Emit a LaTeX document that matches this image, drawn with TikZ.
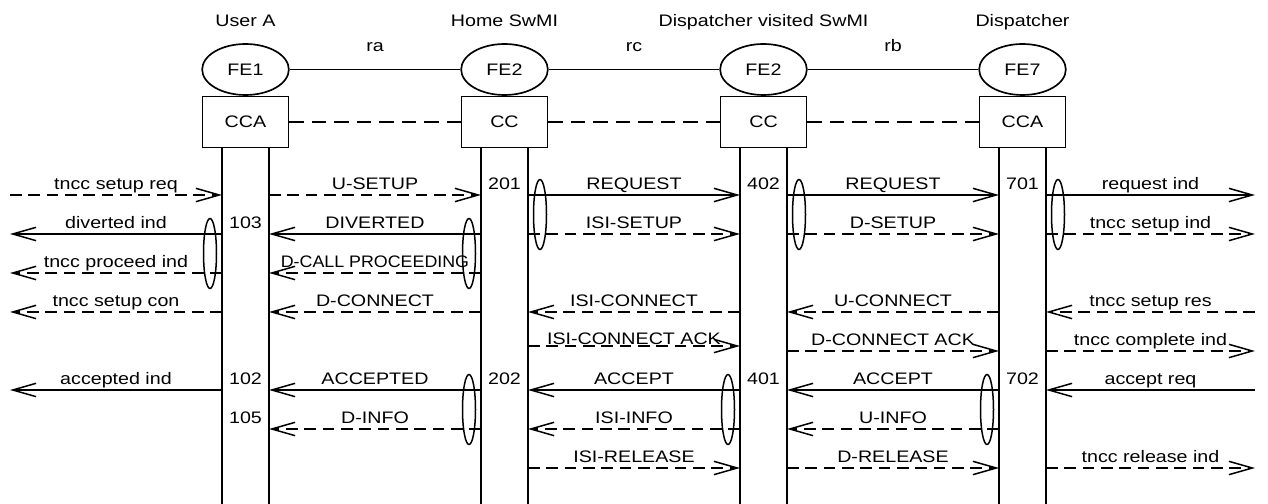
\documentclass[tikz,border=0pt]{standalone}
\usepackage{fontspec}
\setmainfont[FakeStretch=1.18]{Liberation Sans}
\newfontfamily\narrowsans[FakeStretch=1.07]{Liberation Sans}
\usetikzlibrary{positioning,shapes.geometric,arrows.meta}

\begin{document}
\begin{tikzpicture}[x=0.6pt,y=-0.6pt,font=\fontsize{10}{12}\selectfont]
  \tikzset{fe/.style={draw,ellipse,minimum width=52pt,minimum height=30.6pt,inner sep=0pt,line width=1pt}}
  \tikzset{fbox/.style={draw,rectangle,minimum width=51.6pt,minimum height=30.6pt,inner sep=0pt,line width=1pt}}
  \tikzset{life/.style={line width=1.1pt}}
  \tikzset{sig/.style={-{Straight Barb[length=14pt,width=8pt]},line width=0.9pt}}
  \tikzset{dsh/.style={dash pattern=on 7pt off 4pt}}
  \tikzset{lbl/.style={midway,anchor=base,yshift=3.3pt,inner sep=0pt}}
  \tikzset{ifl/.style={midway,anchor=base,yshift=10.5pt,inner sep=0pt}}
  \tikzset{num/.style={anchor=base,yshift=3.3pt,inner sep=0pt}}
  \tikzset{grp/.style={draw,ellipse,minimum width=7.8pt,minimum height=42pt,inner sep=0pt,line width=0.9pt}}

  \useasboundingbox (0,0) rectangle (1268,504);

  % entities and lifelines
  \foreach \n/\x/\fe/\cc/\who in {A/245.5/FE1/CCA/User A, H/504.5/FE2/CC/Home SwMI,
      V/763.5/FE2/CC/Dispatcher visited SwMI, D/1022.5/FE7/CCA/Dispatcher}{
    \node[fe] (f\n) at (\x,69.5) {\fe};
    \node[fbox,below=0pt of f\n] (c\n) {\cc};
    \node[anchor=base] (t\n) at (\x,27) {\who};
    \coordinate (l\n) at (\x-23.5,0);
    \coordinate (r\n) at (\x+23.5,0);
    \draw[life] (l\n |- c\n.south) -- (l\n |- 0,504);
    \draw[life] (r\n |- c\n.south) -- (r\n |- 0,504);
  }
  \coordinate (W) at (10,0);
  \coordinate (E) at (1255,0);

  \draw[line width=0.9pt] (fA) -- node[ifl]{ra} (fH);
  \draw[line width=0.9pt] (fH) -- node[ifl]{rc} (fV);
  \draw[line width=0.9pt] (fV) -- node[ifl]{rb} (fD);
  \draw[line width=0.9pt,dash pattern=on 8.5pt off 5pt] (cA) -- (cH);
  \draw[line width=0.9pt,dash pattern=on 8.5pt off 5pt] (cH) -- (cV);
  \draw[line width=0.9pt,dash pattern=on 8.5pt off 5pt] (cV) -- (cD);

  % messages
  \foreach \from/\to/\y/\st/\txt in {
      W/lA/195/dsh/tncc setup req, rA/lH/195/dsh/U-SETUP, rH/lV/195/solid/REQUEST,
      rV/lD/195/solid/REQUEST, rD/E/195/solid/request ind,
      lA/W/234/solid/diverted ind, lH/rA/234/solid/DIVERTED, rH/lV/234/dsh/ISI-SETUP,
      rV/lD/234/dsh/D-SETUP, rD/E/234/dsh/tncc setup ind,
      lA/W/273/dsh/tncc proceed ind, lH/rA/273/dsh/{\narrowsans D-CALL PROCEEDING},
      lA/W/312/dsh/tncc setup con, lH/rA/312/dsh/D-CONNECT, lV/rH/312/dsh/ISI-CONNECT,
      lD/rV/312/dsh/U-CONNECT, E/rD/312/dsh/tncc setup res,
      rV/lD/351/dsh/D-CONNECT ACK, rD/E/351/dsh/tncc complete ind,
      lA/W/390/solid/accepted ind, lH/rA/390/solid/ACCEPTED, lV/rH/390/solid/ACCEPT,
      lD/rV/390/solid/ACCEPT, E/rD/390/solid/accept req,
      lH/rA/429/dsh/D-INFO, lV/rH/429/dsh/ISI-INFO, lD/rV/429/dsh/U-INFO,
      rH/lV/468/dsh/ISI-RELEASE, rV/lD/468/dsh/D-RELEASE, rD/E/468/dsh/tncc release ind}{
    \draw[sig,\st] (\from |- 0,\y) -- node[lbl]{\txt} (\to |- 0,\y);
  }
  \draw[sig,dsh] (rH |- 0,346) -- node[lbl,yshift=-2.7pt]{ISI-CONNECT ACK} (lV |- 0,346);

  % transaction numbers
  \node[num] (n103) at (fA |- 0,234) {103};
  \node[num] (n102) at (fA |- 0,390) {102};
  \node[num] (n105) at (fA |- 0,429) {105};
  \node[num] (n201) at (fH |- 0,195) {201};
  \node[num] (n202) at (fH |- 0,390) {202};
  \node[num] (n402) at (fV |- 0,195) {402};
  \node[num] (n401) at (fV |- 0,390) {401};
  \node[num] (n701) at (fD |- 0,195) {701};
  \node[num] (n702) at (fD |- 0,390) {702};

  % grouped signals
  \node[grp] (g1) at (210,253.5) {};
  \node[grp] (g2) at (469,253.5) {};
  \node[grp] (g3) at (540,214.5) {};
  \node[grp] (g4) at (799,214.5) {};
  \node[grp] (g5) at (1058,214.5) {};
  \node[grp] (g6) at (469,409.5) {};
  \node[grp] (g7) at (728,409.5) {};
  \node[grp] (g8) at (987,409.5) {};
\end{tikzpicture}
\end{document}
